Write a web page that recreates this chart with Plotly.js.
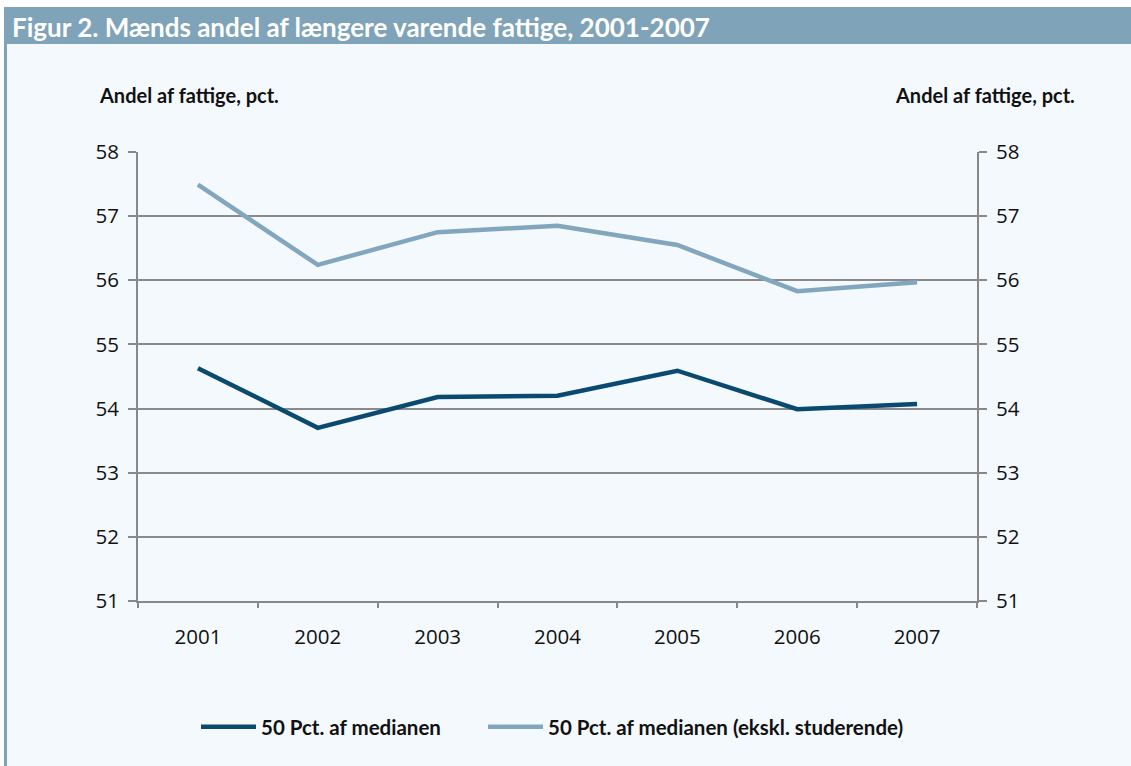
<!DOCTYPE html>
<html><head><meta charset="utf-8">
<script src="https://cdn.plot.ly/plotly-3.0.1.min.js"></script>
<style>html,body{margin:0;padding:0;background:#fff}#c{width:1131px;height:766px}</style>
</head><body><div id="c"></div>
<script>
const years = ['2001','2002','2003','2004','2005','2006','2007'];
const seriesAll = [54.63, 53.70, 54.18, 54.20, 54.59, 53.99, 54.07];
const seriesExStud = [57.49, 56.24, 56.75, 56.85, 56.55, 55.83, 55.97];
const yTicks = [51,52,53,54,55,56,57,58];
const nameAll = '50 Pct. af medianen';
const nameEx = '50 Pct. af medianen (ekskl. studerende)';
const titleText = 'Figur 2. Mænds andel af længere varende fattige, 2001-2007';
const axisLabel = 'Andel af fattige, pct.';

const L=138, R=977, T=152, B=601, W=1131, H=766;
const pw=R-L, ph=B-T;
const px = x => (x-L)/pw;
const py = y => (B-y)/ph;

const FONT='Lato, "Open Sans", sans-serif';
const TFONT='"Open Sans", Lato, sans-serif';
const traces = [
  {x: years, y: seriesAll, name: nameAll, type:'scatter', mode:'lines', legend:'legend',
   line:{color:'#0b4a70', width:4.5}},
  {x: years, y: seriesExStud, name: nameEx, type:'scatter', mode:'lines', legend:'legend2',
   line:{color:'#82a6bd', width:4.5}},
  {x: years, y: seriesAll, yaxis:'y2', type:'scatter', mode:'lines', showlegend:false, hoverinfo:'skip', line:{width:0}, opacity:0}
];
const yCommon = {range:[51,58], tickvals:yTicks, ticks:'outside', ticklen:8, tickcolor:'#888', tickwidth:2,
  showline:true, linecolor:'#888', linewidth:2, zeroline:false, fixedrange:true,
  tickfont:{family:TFONT, size:20.5, color:'#111'}, ticklabelstandoff:5};
const legCommon = {orientation:'h', xanchor:'left', y:py(727), yanchor:'middle',
    font:{family:FONT, size:20.5, color:'#111', weight:700}, itemwidth:55,
    bgcolor:'rgba(0,0,0,0)', itemclick:false};
const layout = {
  width:W, height:H,
  margin:{l:L, r:W-R, t:T, b:H-B},
  paper_bgcolor:'#f4f9fd', plot_bgcolor:'#f4f9fd',
  showlegend:true,
  legend:Object.assign({}, legCommon, {x:px(196)}),
  legend2:Object.assign({}, legCommon, {x:px(483)}),
  xaxis:{type:'category', range:[-0.5,6.5], tickson:'boundaries', ticks:'outside', ticklen:5,
    tickcolor:'#888', tickwidth:2, showline:true, linecolor:'#888', linewidth:2, showgrid:false,
    tickfont:{family:TFONT, size:20.5, color:'#111'}, ticklabelstandoff:16},
  yaxis:Object.assign({}, yCommon, {side:'left', showgrid:true, gridcolor:'#8a8a8a', gridwidth:2}),
  yaxis2:Object.assign({}, yCommon, {side:'right', overlaying:'y', showgrid:false}),
  shapes:[
    {type:'rect', xref:'paper', yref:'paper', x0:px(0), x1:px(W), y0:py(7), y1:py(0), fillcolor:'#ffffff', line:{width:0}, layer:'below'},
    {type:'rect', xref:'paper', yref:'paper', x0:px(4), x1:px(W), y0:py(44), y1:py(7), fillcolor:'#7fa3b8', line:{width:0}},
    {type:'rect', xref:'paper', yref:'paper', x0:px(0), x1:px(4), y0:py(H), y1:py(7), fillcolor:'#ffffff', line:{width:0}},
    {type:'rect', xref:'paper', yref:'paper', x0:px(4), x1:px(7), y0:py(H), y1:py(44), fillcolor:'#7fa3b8', line:{width:0}}
  ],
  annotations:[
    {text:titleText, xref:'paper', yref:'paper', x:px(10), y:py(27), xanchor:'left', yanchor:'middle', showarrow:false,
     font:{family:FONT, size:26, color:'#ffffff', weight:700}},
    {text:axisLabel, xref:'paper', yref:'paper', x:px(97), y:py(95), xanchor:'left', yanchor:'middle', showarrow:false,
     font:{family:FONT, size:20, color:'#111', weight:700}},
    {text:axisLabel, xref:'paper', yref:'paper', x:px(1077), y:py(95), xanchor:'right', yanchor:'middle', showarrow:false,
     font:{family:FONT, size:20, color:'#111', weight:700}}
  ]
};
Plotly.newPlot('c', traces, layout, {displayModeBar:false, staticPlot:true});
</script></body></html>
